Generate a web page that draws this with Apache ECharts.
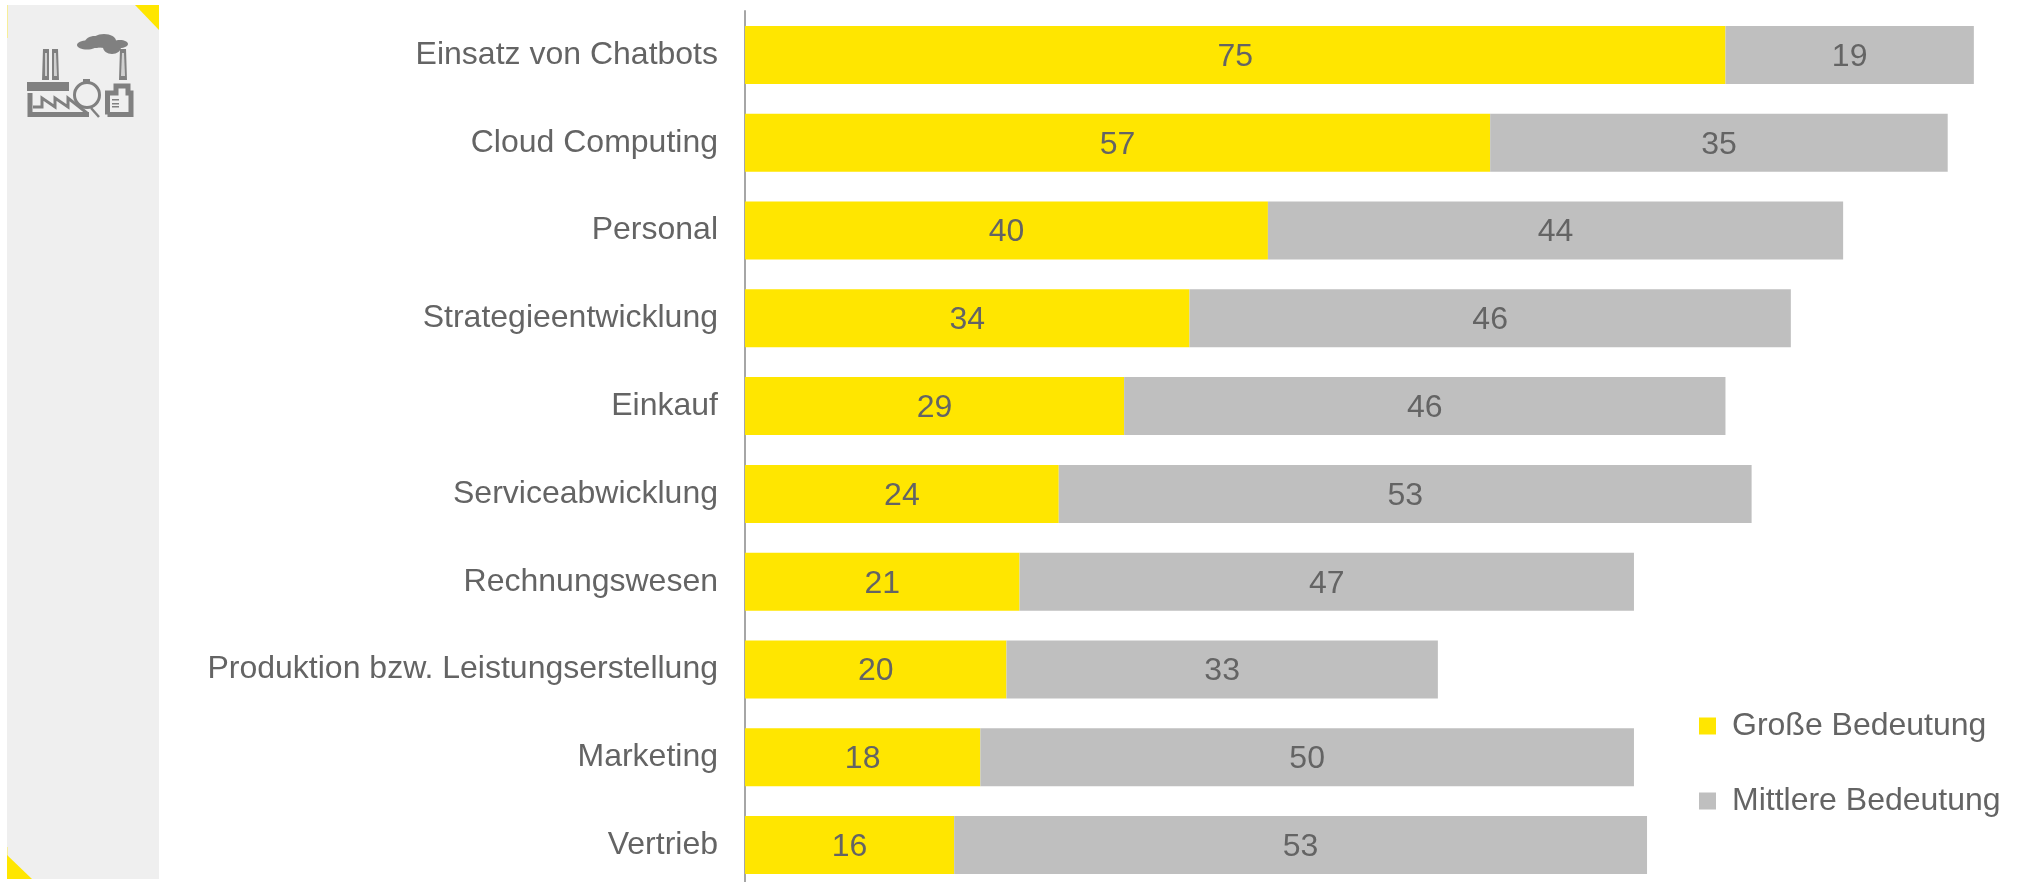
<!DOCTYPE html>
<html>
<head>
<meta charset="utf-8">
<style>html,body{margin:0;padding:0;background:#fff;height:882px;overflow:hidden}#chart{width:2042px;height:900px}</style>
<script src="https://cdn.jsdelivr.net/npm/echarts@6/dist/echarts.min.js"></script>
</head>
<body>
<div id="chart"></div>
<script>
const categories = ['Einsatz von Chatbots','Cloud Computing','Personal','Strategieentwicklung','Einkauf','Serviceabwicklung','Rechnungswesen','Produktion bzw. Leistungserstellung','Marketing','Vertrieb'];
const grosseBedeutung = [75,57,40,34,29,24,21,20,18,16];
const mittlereBedeutung = [19,35,44,46,46,53,47,33,50,53];

const YELLOW = '#FFE600', GREY = '#BFBFBF', TEXT = '#646464', ICON = '#808080';
const FONT = '"Liberation Sans", Arial, sans-serif';
const FONT_SIZE = 32;

// Side panel with corner accents and the industry pictogram
const poly = (points, fill) => ({type:'polygon', shape:{points}, style:{fill}, silent:true});
const line = (points, width) => ({type:'polyline', shape:{points}, style:{stroke:ICON, fill:'none', lineWidth:width}, silent:true});
const blob = (cx, cy, rx, ry) => ({type:'ellipse', shape:{cx, cy, rx, ry}, style:{fill:ICON}, silent:true});
const panel = [
  {type:'rect', shape:{x:7, y:5, width:152, height:874}, style:{fill:'#EFEFEF'}, silent:true},
  {type:'rect', shape:{x:7, y:5, width:1, height:33}, style:{fill:'#F7EE9A'}, silent:true},
  {type:'rect', shape:{x:7, y:847, width:1, height:9}, style:{fill:'#F7EE9A'}, silent:true},
  poly([[135,5],[159,5],[159,30]], YELLOW),
  poly([[7,855],[32,879],[7,879]], YELLOW),
  // cloud
  blob(87,45,10,4.5), blob(95,42,10,6), blob(104,41,12,7), blob(112,47,9,7), blob(120,44,8,4),
  // twin chimneys
  poly([[43,49],[49,49],[49,80],[42,80]], ICON),
  poly([[52,49],[58,49],[59,80],[52,80]], ICON),
  poly([[45,53],[47,53],[47,76],[45,76]], '#D0D0D0'),
  poly([[54,53],[56,53],[57,76],[54,76]], '#D0D0D0'),
  // factory roof band and saw-tooth hall
  {type:'rect', shape:{x:27, y:82, width:42, height:9}, style:{fill:ICON}, silent:true},
  line([[30,93],[30,114.5],[89,114.5]], 5),
  line([[33,107],[42,107],[42,98],[55,107],[55,98],[68,107],[68,98],[87,113]], 3),
  // spherical tank with stand
  {type:'circle', shape:{cx:87, cy:95, r:12.5}, style:{stroke:ICON, fill:'none', lineWidth:3}, silent:true},
  {type:'rect', shape:{x:83, y:79, width:7, height:4}, style:{fill:ICON}, silent:true},
  line([[91,108],[99,117]], 2.5),
  // right hand building with chimney
  poly([[120,49],[126,49],[127,80],[119,80]], ICON),
  poly([[122,53],[124,53],[125,76],[121,76]], '#D0D0D0'),
  line([[107.5,114.5],[107.5,93],[116,93],[116,86],[128,86],[128,93],[131,93],[131,114.5],[107.5,114.5]], 5),
  {type:'rect', shape:{x:112, y:99, width:7, height:1.5}, style:{fill:ICON}, silent:true},
  {type:'rect', shape:{x:112, y:103, width:7, height:1.5}, style:{fill:ICON}, silent:true},
  {type:'rect', shape:{x:112, y:106, width:7, height:1.5}, style:{fill:ICON}, silent:true}
];

const valueLabel = {show:true, position:'inside', offset:[0,2], color:TEXT, fontFamily:FONT, fontSize:FONT_SIZE};
const chart = echarts.init(document.getElementById('chart'), null, {renderer:'canvas'});
chart.setOption({
  animation:false,
  backgroundColor:'#fff',
  graphic:panel,
  // The last category band runs slightly past the bottom edge of the page
  grid:{left:745, top:11, width:1255, height:878, containLabel:false},
  xAxis:{type:'value', min:0, max:96, show:false},
  yAxis:{type:'category', data:categories, inverse:true,
    axisLine:{show:true, lineStyle:{color:'#A6A6A6', width:2}},
    axisTick:{show:false},
    axisLabel:{color:TEXT, fontFamily:FONT, fontSize:FONT_SIZE, margin:27, padding:[8,0,0,0]}},
  legend:{orient:'vertical', left:1699, top:710, padding:0, itemWidth:17, itemHeight:17, itemGap:43,
    icon:'rect', selectedMode:false,
    textStyle:{color:TEXT, fontFamily:FONT, fontSize:FONT_SIZE, padding:[0,0,0,11]},
    data:['Große Bedeutung','Mittlere Bedeutung']},
  series:[
    {name:'Große Bedeutung', type:'bar', stack:'a', data:grosseBedeutung, barWidth:58,
      itemStyle:{color:YELLOW}, label:valueLabel},
    {name:'Mittlere Bedeutung', type:'bar', stack:'a', data:mittlereBedeutung, barWidth:58,
      itemStyle:{color:GREY}, label:valueLabel}
  ]
});
</script>
</body>
</html>
